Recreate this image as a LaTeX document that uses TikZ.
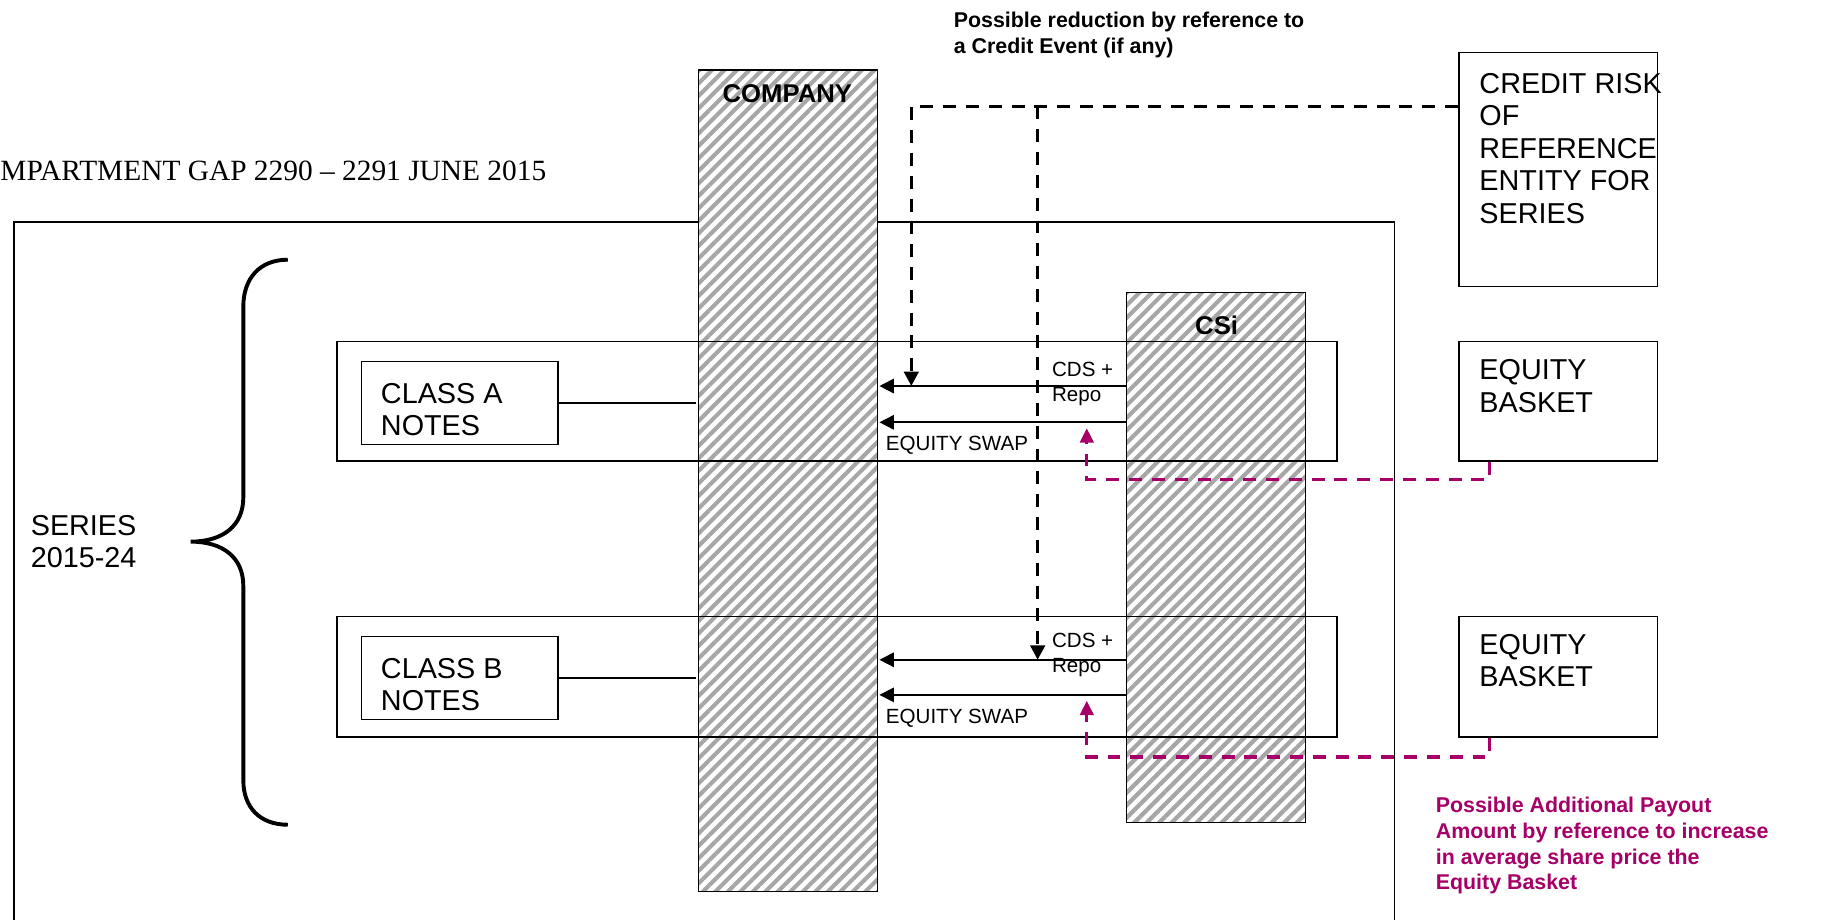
\documentclass[tikz,border=0pt]{standalone}
\usepackage{fontspec}
\setmainfont{Liberation Sans}
\newfontfamily\serifface{Liberation Serif}
\usepackage{tikz}
\usetikzlibrary{arrows.meta,patterns.meta,positioning}
\definecolor{payout}{RGB}{166,0,104}

\begin{document}
\begin{tikzpicture}[x=0.02cm, y=-0.02cm,
    box/.style={rectangle, draw, line width=0.8pt, inner sep=0pt},
    column/.style={rectangle, draw, line width=0.8pt, preaction={fill=white},
        pattern={Lines[angle=45, distance=4.3pt, line width=2pt]}, pattern color=black!35},
    txt/.style={font=\fontsize{14}{15.6}\selectfont, align=left, inner sep=0pt},
    small/.style={font=\fontsize{10}{12}\selectfont, align=left, inner sep=0pt},
    note/.style={font=\bfseries\fontsize{10.4}{12.5}\selectfont, align=left, inner sep=0pt},
    collabel/.style={font=\bfseries\fontsize{12.5}{15}\selectfont, inner sep=0pt},
    flow/.style={-{Triangle[width=7pt, length=7pt]}, line width=0.8pt},
    creditline/.style={-{Triangle[width=7pt, length=7pt]}, line width=1.6pt, dash pattern=on 6.3pt off 4.8pt},
    payline/.style={creditline, color=payout, -{Triangle[width=6.5pt, length=7pt]}}]

    \useasboundingbox (0,0) rectangle (1572,786);

    \node[txt, font=\serifface\fontsize{14.3}{16}\selectfont, anchor=west] (title) at (0,146) {MPARTMENT GAP 2290 – 2291 JUNE 2015};
    \draw[line width=0.8pt] (12,786) -- (12,190) -- (1192,190) -- (1192,786);

    \node[column, minimum width=3.06cm, minimum height=14.04cm] (company) at (673.5,411) {};
    \node[column, minimum width=3.06cm, minimum height=9.06cm] (csi) at (1039.5,476.5) {};
    \node[collabel] (companylabel) at (673,80) {COMPANY};
    \node[collabel] (csilabel) at (1040,278) {CSi};

    \node[box, minimum width=17.1cm, minimum height=2.04cm] (bandA) at (715.5,343) {};
    \node[box, minimum width=17.1cm, minimum height=2.06cm] (bandB) at (715.5,578.5) {};

    \node[box, minimum width=3.36cm, minimum height=1.42cm] (classA) at (393,344.5) {};
    \node[txt, anchor=west] (classAtext) at ([xshift=0.34cm, yshift=-0.12cm]classA.west) {CLASS A\\NOTES};
    \node[box, minimum width=3.36cm, minimum height=1.42cm] (classB) at (393,579.5) {};
    \node[txt, anchor=west] (classBtext) at ([xshift=0.34cm, yshift=-0.12cm]classB.west) {CLASS B\\NOTES};

    \node[box, minimum width=3.4cm, minimum height=4cm] (credit) at (1332,145) {};
    \node[txt, font=\fontsize{14}{15.8}\selectfont, anchor=north west] (creditrisk) at ([xshift=0.36cm, yshift=-0.36cm]credit.north west) {CREDIT RISK\\OF\\REFERENCE\\ENTITY FOR\\SERIES};
    \node[box, minimum width=3.4cm, minimum height=2.04cm] (basketA) at (1332,343) {};
    \node[txt, anchor=north west] (basketAtext) at ([xshift=0.36cm, yshift=-0.32cm]basketA.north west) {EQUITY\\BASKET};
    \node[box, minimum width=3.4cm, minimum height=2.06cm] (basketB) at (1332,578.5) {};
    \node[txt, anchor=north west] (basketBtext) at ([xshift=0.36cm, yshift=-0.32cm]basketB.north west) {EQUITY\\BASKET};

    \node[txt, anchor=west] (series) at (26,463) {SERIES\\2015-24};
    \draw[line width=1.9pt] (246,222) .. controls (222,222) and (208,238) .. (208,262) -- (208,425)
        .. controls (208,450) and (190,463) .. (163,463) .. controls (190,463) and (208,476) .. (208,501)
        -- (208,667) .. controls (208,690) and (222,705) .. (246,705);

    \draw[line width=0.8pt] (classA.east) -- (classA.east -| company.west);
    \draw[line width=0.8pt] (classB.east) -- (classB.east -| company.west);

    \coordinate (cdsA) at (0,330);
    \coordinate (swapA) at (0,361);
    \coordinate (cdsB) at (0,564);
    \coordinate (swapB) at (0,594);
    \draw[flow] (csi.west |- cdsA) -- (company.east |- cdsA);
    \draw[flow] (csi.west |- swapA) -- (company.east |- swapA);
    \draw[flow] (csi.west |- cdsB) -- (company.east |- cdsB);
    \draw[flow] (csi.west |- swapB) -- (company.east |- swapB);
    \node[small, anchor=west] (cdsAlabel) at (899,328) {CDS +\\Repo};
    \node[small, anchor=west] (swapAlabel) at (757,381) {EQUITY SWAP};
    \node[small, anchor=west] (cdsBlabel) at (899,560) {CDS +\\Repo};
    \node[small, anchor=west] (swapBlabel) at (757,614) {EQUITY SWAP};

    \coordinate (corner) at (779,91);
    \coordinate (split) at (887,91);
    \draw[creditline] (credit.west |- corner) -- (corner) -- (corner |- cdsA);
    \draw[creditline] (split) -- (split |- cdsB);
    \node[note, anchor=west] (reduction) at (815,30) {Possible reduction by reference to\\a Credit Event (if any)};

    \coordinate (payA) at (1273,410);
    \coordinate (payturnA) at (929,410);
    \coordinate (payendA) at (929,366);
    \coordinate (payB) at (1273,647);
    \coordinate (payturnB) at (929,647);
    \coordinate (payendB) at (929,599);
    \draw[payline] (basketA.south -| payA) |- (payturnA) -- (payendA);
    \draw[payline] (basketB.south -| payB) |- (payturnB) -- (payendB);
    \node[note, text=payout, anchor=west] (payoutnote) at (1227,723) {Possible Additional Payout\\Amount by reference to increase\\in average share price the\\Equity Basket};
\end{tikzpicture}
\end{document}
